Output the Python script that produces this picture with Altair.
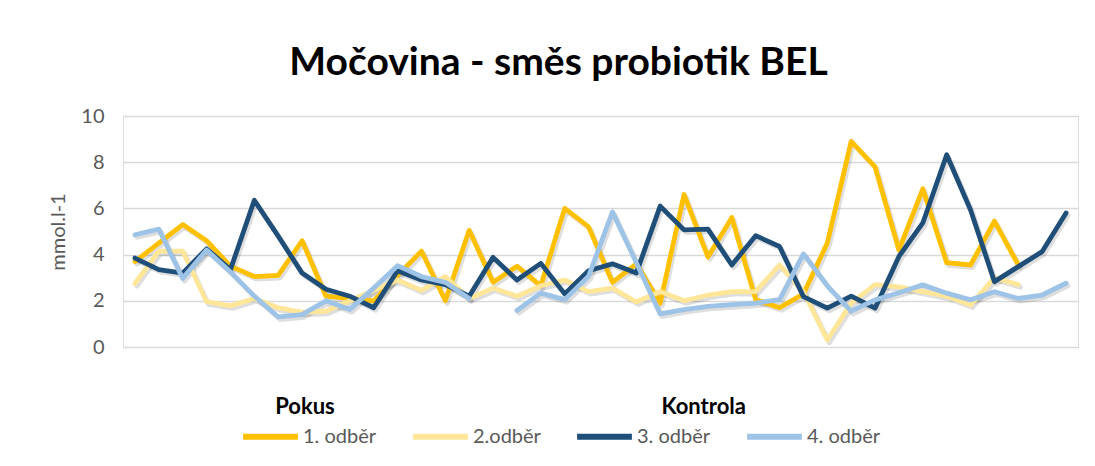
import altair as alt
import pandas as pd

series_names = ["1. odběr", "2.odběr", "3. odběr", "4. odběr"]
series_colors = ["#FFC000", "#FFE699", "#1F4E79", "#9DC3E6"]

s1 = [3.7, 4.5, 5.3, 4.6, 3.5, 3.05, 3.1, 4.6, 2.2, 2.1,
      2.0, 3.1, 4.15, 2.0, 5.05, 2.8, 3.5, 2.65, 6.0, 5.2,
      2.8, 3.6, 1.9, 6.6, 3.9, 5.6, 2.05, 1.7, 2.3, 4.5,
      8.9, 7.8, 4.2, 6.85, 3.65, 3.55, 5.45, 3.55, None, None]
s2 = [2.75, 4.15, 4.15, 1.96, 1.78, 2.1, 1.7, 1.5, 1.55, 2.0,
      2.45, 2.9, 2.45, 3.05, 2.1, 2.55, 2.2, 2.65, 2.9, 2.4,
      2.55, 1.95, 2.4, 2.0, 2.25, 2.4, 2.4, 3.55, 2.4, 0.3,
      1.9, 2.7, 2.6, 2.4, 2.2, 1.82, 3.0, 2.7, None, None]
s3 = [3.85, 3.35, 3.2, 4.25, 3.35, 6.35, 4.8, 3.2, 2.5, 2.2,
      1.7, 3.3, 2.9, 2.7, 2.2, 3.88, 2.9, 3.62, 2.3, 3.3,
      3.6, 3.2, 6.1, 5.07, 5.1, 3.55, 4.82, 4.35, 2.18, 1.68,
      2.2, 1.68, 3.92, 5.37, 8.32, 5.93, 2.83, 3.48, 4.13, 5.8]
s4 = [4.86, 5.1, 2.97, 4.2, 3.25, 2.2, 1.3, 1.4, 2.0, 1.62,
      2.55, 3.52, 3.05, 2.8, 2.1, None, 1.58, 2.33, 2.05, 3.06,
      5.85, 3.65, 1.43, 1.62, 1.76, 1.83, 1.9, 2.05, 4.03, 2.65,
      1.55, 2.04, 2.35, 2.69, 2.33, 2.04, 2.39, 2.1, 2.25, 2.76]

group_labels = ["Pokus", "Kontrola"]
group_centers = [7.1, 23.8]
y_ticks = [0, 2, 4, 6, 8, 10]

rows = []
for name, vals in zip(series_names, [s1, s2, s3, s4]):
    for i, v in enumerate(vals):
        rows.append({"idx": i, "value": v, "series": name})
df = pd.DataFrame(rows)

n = len(s1)
label_expr = " : ".join(
    [f"datum.value == {c} ? '{l}'" for l, c in zip(group_labels, group_centers)] + ["''"]
)

FONT = "Lato"

x_enc = alt.X(
    "idx:Q",
    scale=alt.Scale(domain=[-0.5, n - 0.5], nice=False, zero=False),
    axis=alt.Axis(
        values=group_centers, labelExpr=label_expr, ticks=False, domain=False,
        grid=False, title=None, labelFontWeight="bold", labelFontSize=22,
        labelColor="#000000", labelPadding=49, labelFont=FONT, labelFlush=False,
    ),
)
y_enc = alt.Y(
    "value:Q",
    scale=alt.Scale(domain=[0, 10], nice=False),
    axis=alt.Axis(
        values=y_ticks, title="mmol.l-1", grid=True, gridColor="#D9D9D9",
        gridWidth=1.3, domain=False, ticks=False, labelPadding=19,
        labelFontSize=20, labelColor="#595959", labelFont=FONT,
        titleFontSize=20, titleColor="#595959", titleFontWeight="normal",
        titleFont=FONT, titleX=-65, titleY=115.5, titleAngle=270,
        titleAlign="center", titleBaseline="middle",
    ),
)

shadow = alt.Chart(df).mark_line(
    strokeWidth=5, color="#000000", opacity=0.13, xOffset=2, yOffset=2.5,
    strokeJoin="round", strokeCap="round", invalid="break-paths-filter-domains",
).encode(x=x_enc, y=y_enc, detail="series:N")

lines = alt.Chart(df).mark_line(
    strokeWidth=4.8, strokeJoin="round", strokeCap="round",
    invalid="break-paths-filter-domains",
).encode(
    x=x_enc,
    y=y_enc,
    color=alt.Color(
        "series:N",
        scale=alt.Scale(domain=series_names, range=series_colors),
        sort=series_names,
        legend=alt.Legend(
            orient="none", legendX=117, legendY=290, direction="horizontal",
            title=None, symbolType="stroke", symbolSize=3000,
            symbolStrokeWidth=6, labelFontSize=20, labelColor="#595959",
            columnPadding=24, labelOffset=2, labelFont=FONT,
        ),
    ),
    order=alt.Order("idx:Q"),
)

chart = alt.layer(shadow, lines).properties(
    width=955,
    height=231,
    autosize=alt.AutoSizeParams(type="none"),
    padding={"left": 115, "top": 108, "right": 9, "bottom": 110},
    title=alt.Title(
        "Močovina - směs probiotik BEL", fontSize=39, font=FONT,
        fontWeight="bold", color="#000000", anchor="middle", frame="group",
        offset=23, dx=-42,
    ),
).configure_view(stroke=None).configure(background="#FFFFFF")

chart.save("out.html", embed_options={"renderer": "svg", "actions": False})
